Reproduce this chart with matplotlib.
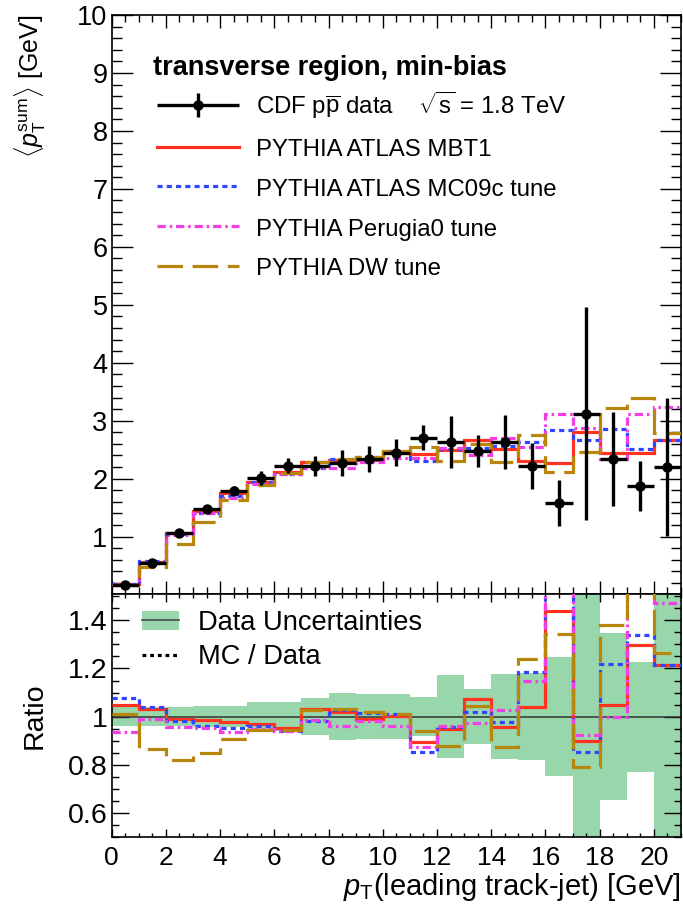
import numpy as np
import matplotlib
matplotlib.use('Agg')
import matplotlib.pyplot as plt
from matplotlib.ticker import MultipleLocator, FuncFormatter
from matplotlib.lines import Line2D
from matplotlib.patches import Patch
from matplotlib.legend_handler import HandlerErrorbar
from matplotlib.container import ErrorbarContainer

plt.rcParams['font.family'] = ['Liberation Sans', 'DejaVu Sans']
plt.rcParams['mathtext.fontset'] = 'custom'
plt.rcParams['mathtext.rm'] = 'Liberation Sans'
plt.rcParams['mathtext.it'] = 'Liberation Sans:italic'
plt.rcParams['mathtext.bf'] = 'Liberation Sans:bold'

# bins of leading track-jet pT (GeV), 1 GeV wide
bin_edges = np.arange(0, 22)

# CDF data and its uncertainty
data = [0.17, 0.55, 1.07, 1.47, 1.79, 2.01, 2.22, 2.22, 2.27, 2.34, 2.45,
        2.71, 2.63, 2.48, 2.63, 2.22, 1.58, 3.12, 2.34, 1.88, 2.20]
data_err = [0.007, 0.022, 0.043, 0.066, 0.08, 0.12, 0.13, 0.17, 0.22, 0.22, 0.23,
            0.22, 0.45, 0.28, 0.47, 0.40, 0.39, 1.84, 0.81, 0.43, 1.19]

# MC predictions
mbt1 = [0.178, 0.568, 1.059, 1.449, 1.747, 1.950, 2.116, 2.291, 2.315, 2.317, 2.460,
        2.420, 2.496, 2.664, 2.520, 2.307, 2.271, 2.808, 2.448, 2.436, 2.668]
mc09c = [0.183, 0.571, 1.052, 1.415, 1.706, 1.935, 2.087, 2.182, 2.334, 2.375, 2.477,
         2.306, 2.520, 2.532, 2.567, 2.636, 2.84, 2.664, 2.852, 2.515, 2.668]
perugia0 = [0.159, 0.545, 1.022, 1.401, 1.674, 1.910, 2.087, 2.192, 2.185, 2.293, 2.358,
            2.363, 2.525, 2.411, 2.706, 2.544, 3.11, 2.874, 2.333, 3.12, 3.243]
dw = [0.172, 0.476, 0.877, 1.248, 1.624, 1.897, 2.096, 2.282, 2.338, 2.382, 2.475,
      2.545, 2.312, 2.594, 2.293, 2.753, 2.12, 2.465, 3.227, 3.40, 2.781]

mc_labels = ['PYTHIA ATLAS MBT1', 'PYTHIA ATLAS MC09c tune',
             'PYTHIA Perugia0 tune', 'PYTHIA DW tune']
mc_colors = ['#ff3320', '#2f45ff', '#f23ee6', '#b8860b']
mc_styles = ['-', (0, (1.6, 1.3)), (0, (2.6, 1.2, 0.8, 1.2)), (0, (8, 3))]

data = np.array(data)
data_err = np.array(data_err)
centers = 0.5 * (bin_edges[:-1] + bin_edges[1:])

W, H = 683, 917
fig = plt.figure(figsize=(W / 100, H / 100), dpi=100)
left, right = 111.7, 681
ax1 = fig.add_axes([left / W, 1 - 594 / H, (right - left) / W, (594 - 15) / H])
ax2 = fig.add_axes([left / W, 1 - 836.7 / H, (right - left) / W, (836.7 - 594) / H])

# main panel
mc_list = [mbt1, mc09c, perugia0, dw]
handles = []
for vals, lab, col, ls in zip(mc_list, mc_labels, mc_colors, mc_styles):
    ax1.stairs(vals, bin_edges, baseline=None, color=col, lw=2.3, linestyle=ls, zorder=3)
    handles.append(Line2D([], [], color=col, lw=2.3, linestyle=ls))

eb = ax1.errorbar(centers, data, xerr=0.5, yerr=data_err, fmt='o', color='black',
                  ms=6.5, elinewidth=2.4, capsize=0, zorder=5)

ax1.set_xlim(0, 21)
ax1.set_ylim(0.01, 10)
ax1.xaxis.set_major_locator(MultipleLocator(2))
ax1.xaxis.set_minor_locator(MultipleLocator(0.5))
ax1.yaxis.set_major_locator(MultipleLocator(1))
ax1.yaxis.set_minor_locator(MultipleLocator(0.2))
ax1.tick_params(which='both', direction='in', top=True, right=True, width=1.0,
                labelbottom=False, labelsize=19.5, pad=3)
ax1.tick_params(axis='y', which='major', length=15)
ax1.tick_params(axis='y', which='minor', length=7.5)
ax1.tick_params(axis='x', which='major', length=9.5)
ax1.tick_params(axis='x', which='minor', length=5)
ax1.set_ylabel(r'$\langle p_{\rm T}^{\rm sum} \rangle$ [GeV]', fontsize=18, loc='top')
ax1.yaxis.set_label_coords(-0.112, 1.0)

ax1.text(152.7 / W, 1 - 75 / H, 'transverse region, min-bias', transform=fig.transFigure,
         fontsize=19.5, fontweight='bold', ha='left', va='baseline')

leg1 = ax1.legend([eb] + handles,
                  [r'CDF p$\overline{\rm p}$ data    $\sqrt{\rm s}$ = 1.8 TeV'] + mc_labels,
                  loc='upper left', bbox_to_anchor=(157 / W, 1 - 90 / H),
                  bbox_transform=fig.transFigure, frameon=False, fontsize=17.3,
                  handlelength=3.4, handletextpad=0.72, handleheight=1.0,
                  labelspacing=0.655, borderpad=0, borderaxespad=0,
                  handler_map={ErrorbarContainer: HandlerErrorbar(xerr_size=1.7, yerr_size=0.5)})

# ratio panel
rel = data_err / data
ax2.stairs(1 + rel, bin_edges, baseline=1 - rel, fill=True, color='#98d6ab', lw=0, zorder=1)
ax2.axhline(1, color='#333333', lw=1.1, zorder=2)
for vals, col, ls in zip(mc_list, mc_colors, mc_styles):
    ax2.stairs(np.array(vals) / data, bin_edges, baseline=None, color=col, lw=2.3,
               linestyle=ls, zorder=3)

ax2.set_xlim(0, 21)
ax2.set_ylim(0.5, 1.51)
ax2.xaxis.set_major_locator(MultipleLocator(2))
ax2.xaxis.set_minor_locator(MultipleLocator(0.5))
ax2.yaxis.set_major_locator(MultipleLocator(0.2))
ax2.yaxis.set_minor_locator(MultipleLocator(0.05))
ax2.yaxis.set_major_formatter(FuncFormatter(lambda v, p: '%g' % round(v, 2)))
ax2.tick_params(which='both', direction='in', top=True, right=True, width=1.0, pad=3)
ax2.tick_params(axis='x', labelsize=19, pad=7)
ax2.tick_params(axis='y', labelsize=20.5)
ax2.tick_params(axis='y', which='major', length=12)
ax2.tick_params(axis='y', which='minor', length=5)
ax2.tick_params(axis='x', which='major', length=6)
ax2.tick_params(axis='x', which='minor', length=3)
ax2.set_ylabel('Ratio', fontsize=20.5)
ax2.yaxis.set_label_coords(-0.112, 0.5)
ax2.set_xlabel(r'$p_{\rm T}$(leading track-jet) [GeV]', fontsize=21, loc='right')
ax2.xaxis.set_label_coords(1.0, -0.14)

band_handle = (Patch(facecolor='#98d6ab', edgecolor='none'),
               Line2D([], [], color='#555555', lw=1.3))
dot_handle = Line2D([], [], color='black', lw=2.3, linestyle=(0, (1.2, 1.2)))
ax2.legend([band_handle, dot_handle], ['Data Uncertainties', 'MC / Data'],
           loc='upper left', bbox_to_anchor=(142 / W, 1 - 610 / H),
           bbox_transform=fig.transFigure, frameon=False, fontsize=19.6,
           handlelength=1.36, handletextpad=0.7, labelspacing=0.3,
           borderpad=0, borderaxespad=0)

for ax in (ax1, ax2):
    for s in ax.spines.values():
        s.set_linewidth(1.2)

fig.savefig('out.png', dpi=100)
